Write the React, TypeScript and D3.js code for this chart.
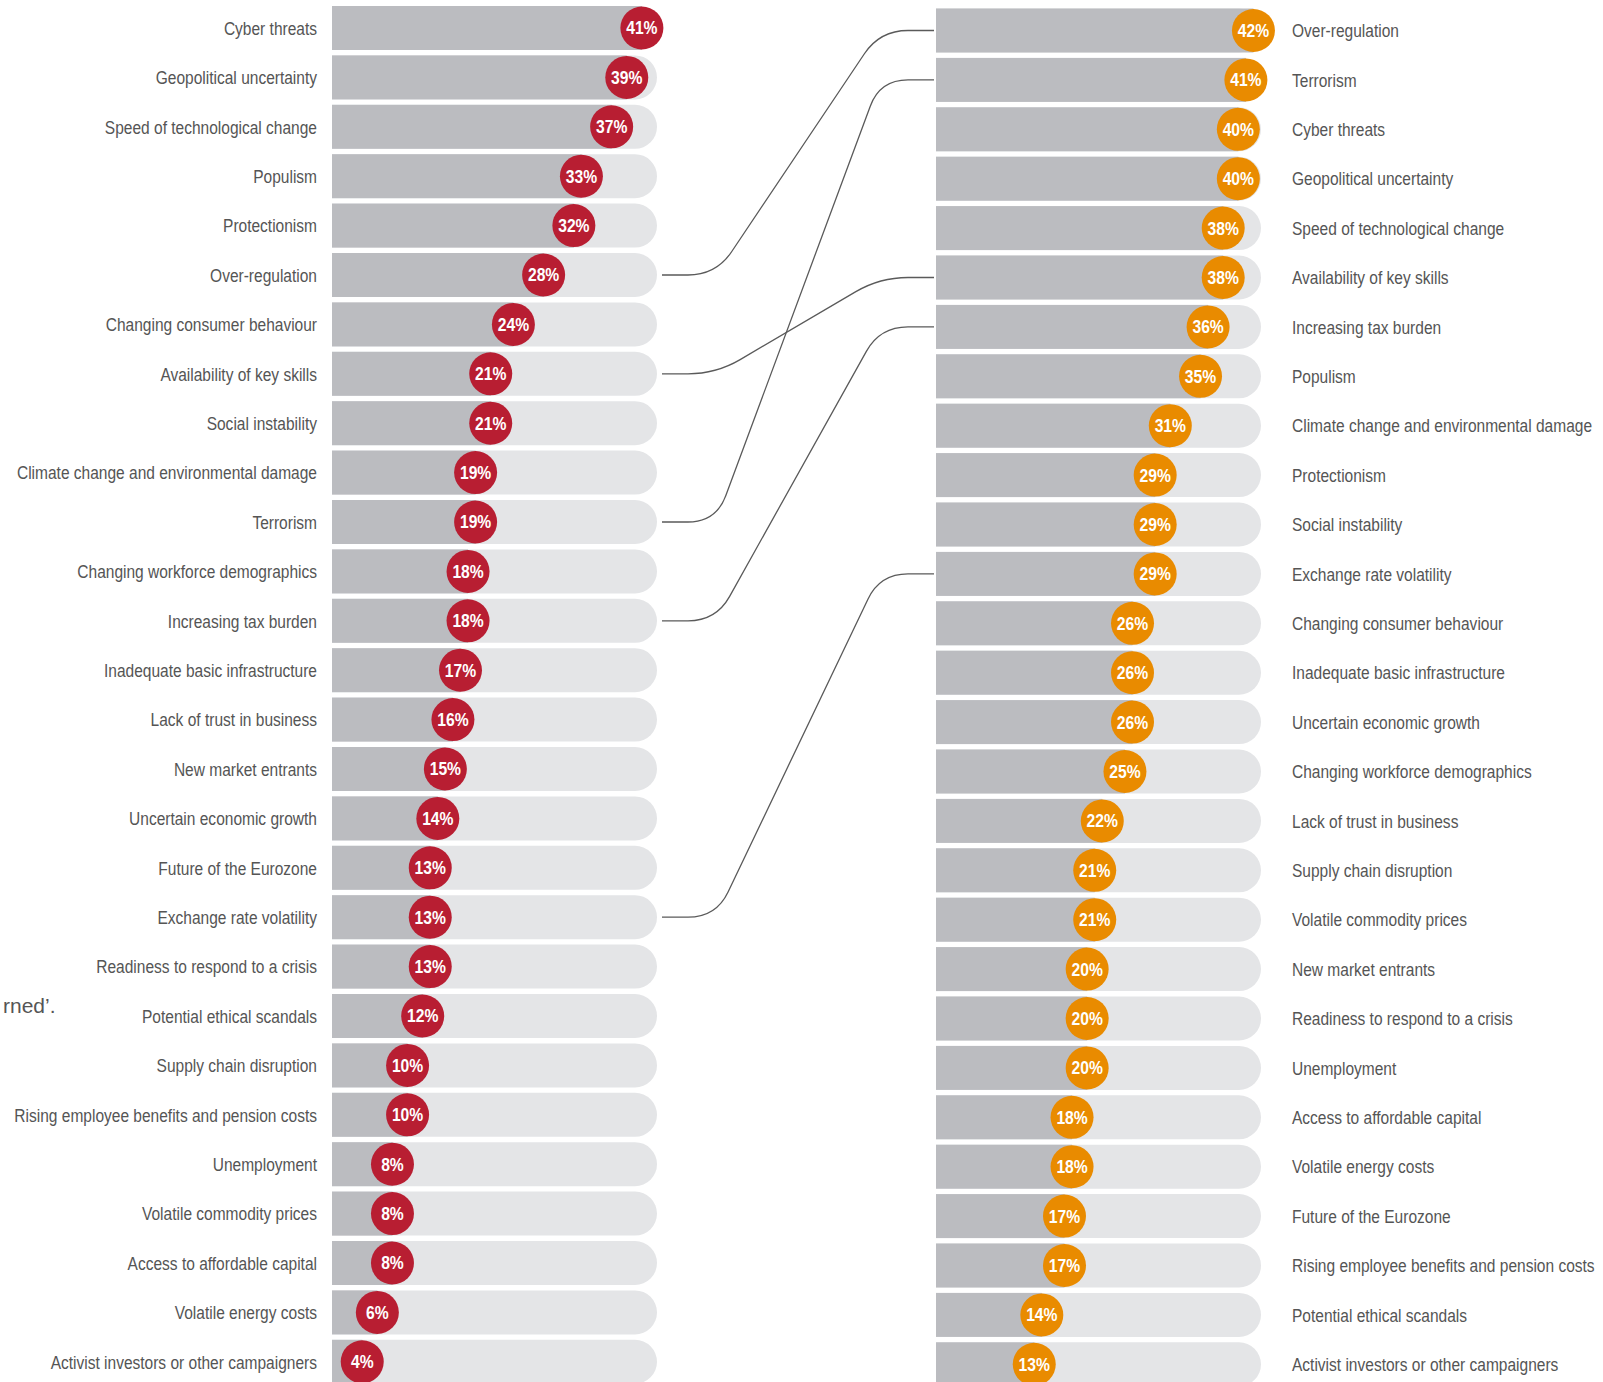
import React from 'react'
import * as d3 from 'd3'

// left column: 2017 ranking, right column: 2018 ranking
const leftNames = [
  'Cyber threats', 'Geopolitical uncertainty', 'Speed of technological change', 'Populism',
  'Protectionism', 'Over-regulation', 'Changing consumer behaviour', 'Availability of key skills',
  'Social instability', 'Climate change and environmental damage', 'Terrorism',
  'Changing workforce demographics', 'Increasing tax burden', 'Inadequate basic infrastructure',
  'Lack of trust in business', 'New market entrants', 'Uncertain economic growth',
  'Future of the Eurozone', 'Exchange rate volatility', 'Readiness to respond to a crisis',
  'Potential ethical scandals', 'Supply chain disruption', 'Rising employee benefits and pension costs',
  'Unemployment', 'Volatile commodity prices', 'Access to affordable capital',
  'Volatile energy costs', 'Activist investors or other campaigners',
]
const leftValues = [41, 39, 37, 33, 32, 28, 24, 21, 21, 19, 19, 18, 18, 17, 16, 15, 14, 13, 13, 13, 12, 10, 10, 8, 8, 8, 6, 4]

const rightNames = [
  'Over-regulation', 'Terrorism', 'Cyber threats', 'Geopolitical uncertainty',
  'Speed of technological change', 'Availability of key skills', 'Increasing tax burden', 'Populism',
  'Climate change and environmental damage', 'Protectionism', 'Social instability',
  'Exchange rate volatility', 'Changing consumer behaviour', 'Inadequate basic infrastructure',
  'Uncertain economic growth', 'Changing workforce demographics', 'Lack of trust in business',
  'Supply chain disruption', 'Volatile commodity prices', 'New market entrants',
  'Readiness to respond to a crisis', 'Unemployment', 'Access to affordable capital',
  'Volatile energy costs', 'Future of the Eurozone', 'Rising employee benefits and pension costs',
  'Potential ethical scandals', 'Activist investors or other campaigners',
]
const rightValues = [42, 41, 40, 40, 38, 38, 36, 35, 31, 29, 29, 29, 26, 26, 26, 25, 22, 21, 21, 20, 20, 20, 18, 18, 17, 17, 14, 13]

const linked = ['Over-regulation', 'Terrorism', 'Availability of key skills', 'Increasing tax burden', 'Exchange rate volatility']

const W = 1603, H = 1382
const barH = 44, rad = 21.5
// no narrow font installed: squeeze Arial-metric Liberation Sans horizontally
const FONT = "'Liberation Sans', Arial, sans-serif"
const SQ = 0.83

const x = d3.scaleLinear().domain([0, 43]).range([0, 325])
const yL = d3.scaleLinear().domain([0, 27]).range([28, 28 + 27 * 49.4])
const yR = d3.scaleLinear().domain([0, 27]).range([30.5, 30.5 + 27 * 49.4])
const leftX0 = 332, rightX0 = 936

function trackPath(x0: number, yc: number) {
  const w = x(43), r = barH / 2, t = yc - r
  return `M${x0},${t}H${x0 + w - r}A${r},${r} 0 0 1 ${x0 + w - r},${t + barH}H${x0}Z`
}

function connector(y0: number, y1: number) {
  const xs = 662, xa = 716, xb = 880, xe = 934, r = 28
  const dx = xb - xa, dy = y1 - y0, len = Math.hypot(dx, dy)
  const ux = dx / len, uy = dy / len
  return `M${xs},${y0}L${xa - r},${y0}Q${xa},${y0} ${xa + r * ux},${y0 + r * uy}` +
    `L${xb - r * ux},${y1 - r * uy}Q${xb},${y1} ${xb + r},${y1}L${xe},${y1}`
}

function Panel({ names, values, x0, y, color, side }: any) {
  return (
    <g>
      {names.map((n: string, i: number) => {
        const yc = y(i), cx = x0 + x(values[i])
        const lx = side === 'left' ? 317 : 1292
        return (
          <g key={n}>
            <path d={trackPath(x0, yc)} fill="#e4e5e7" />
            <rect x={x0} y={yc - barH / 2} width={x(values[i])} height={barH} fill="#bbbcc0" />
            <circle cx={cx} cy={yc} r={rad} fill={color} />
            <text transform={`translate(${cx},${yc}) scale(0.87,1)`} dy="0.36em" textAnchor="middle" fill="#fff"
              fontSize={18} fontWeight="bold" fontFamily={FONT}>
              {values[i]}%
            </text>
            <text transform={`translate(${lx},${yc}) scale(${SQ},1)`} dy="0.36em"
              textAnchor={side === 'left' ? 'end' : 'start'}
              fill="#555" fontSize={18.7} fontFamily={FONT}>{n}</text>
          </g>
        )
      })}
    </g>
  )
}

export default function App() {
  return (
    <div style={{ position: 'absolute', left: 0, top: 0 }}>
      <svg width={W} height={H} style={{ display: 'block', background: '#fff' }}>
        <text x={3} y={1013} fill="#555" fontSize={21} fontFamily={FONT}>rned’.</text>
        <Panel names={leftNames} values={leftValues} x0={leftX0} y={yL} color="#b81e32" side="left" />
        <Panel names={rightNames} values={rightValues} x0={rightX0} y={yR} color="#e98b00" side="right" />
        {linked.map(n => (
          <path key={n} d={connector(yL(leftNames.indexOf(n)), yR(rightNames.indexOf(n)))}
            fill="none" stroke="#5a5a5a" strokeWidth={1.3} />
        ))}
      </svg>
    </div>
  )
}
